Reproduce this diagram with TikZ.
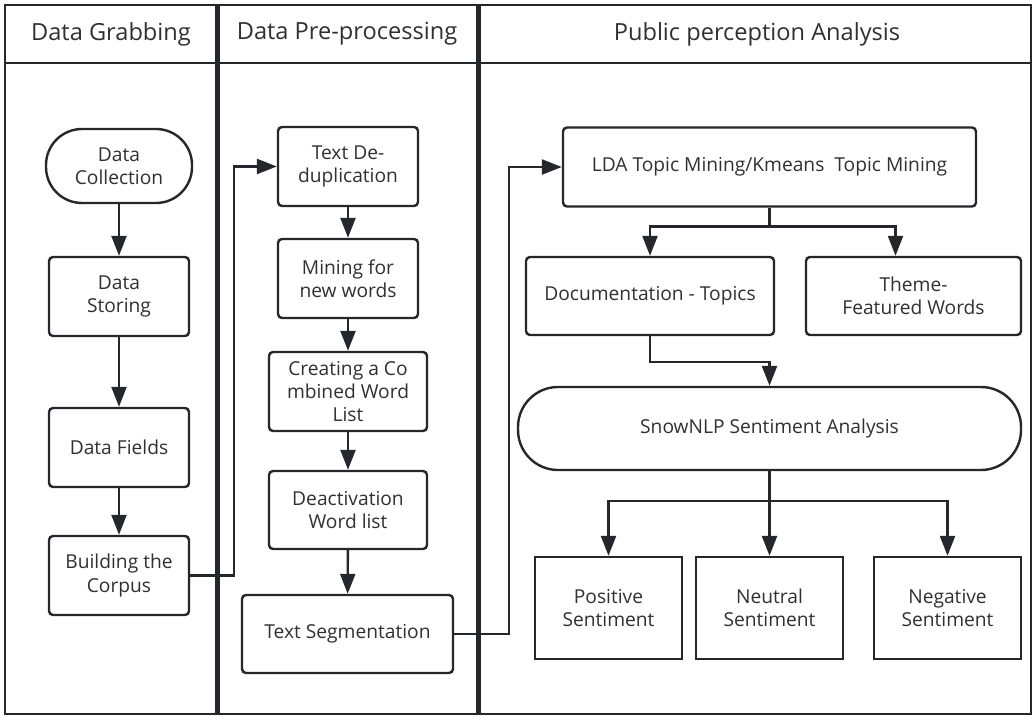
\documentclass[tikz,border=0pt]{standalone}
\usepackage{fontspec}
\setmainfont{Open Sans}
\usetikzlibrary{positioning,backgrounds,arrows.meta}
\definecolor{encre}{RGB}{36,39,43}
\definecolor{texte}{RGB}{48,48,48}

\begin{document}
\begin{tikzpicture}[x=0.5pt,y=-0.5pt]
        \tikzset{
          etape/.style={
            draw=encre,line width=1.2pt,align=center,inner sep=0pt,
            font=\fontsize{9.6}{11.7}\selectfont,text=texte,
            rounded corners=2pt,
          },
          etape carree/.style={etape,rounded corners=0pt},
          capsule/.style={etape,rounded corners=18pt},
          titre/.style={font=\fontsize{11.8}{14}\selectfont,text=texte},
          fleche/.style={
            draw=encre,line width=1.2pt,
            -{Triangle[length=10pt,width=7.5pt]},
          },
          liaison/.style={draw=encre,line width=1.2pt},
          }
        \useasboundingbox (0,0) rectangle (1036,716);
        % swimlanes
        \draw[encre,line width=1pt] (5,5) rectangle (1031,714);
        \draw[encre,line width=1pt] (5,63) -- (1031,63);
        \draw[encre,line width=2.5pt] (217,5) -- (217,714);
        \draw[encre,line width=2.5pt] (478,5) -- (478,714);
        \node[titre] (tete1) at (111,34) {Data Grabbing};
        \node[titre] (tete2) at (347,34) {Data Pre-processing};
        \node[titre] (tete3) at (757,34) {Public perception Analysis};
        % data grabbing
        \node[capsule, minimum width=73pt, minimum height=37pt] (collecte) at (119,166) {Data\\Collection};
        \node[etape, minimum width=70pt, minimum height=39.5pt] (stockage) at (119,296.5) {Data\\Storing};
        \node[etape, minimum width=70pt, minimum height=39.5pt] (champs) at (119,447.5) {Data Fields};
        \node[etape, minimum width=70pt, minimum height=39.5pt] (corpus) at (119,575.5) {Building the\\Corpus};
        % pre-processing
        \node[etape, minimum width=70pt, minimum height=39.5pt] (dedoublonnage) at (348,166.5) {Text De-\\duplication};
        \node[etape, minimum width=70pt, minimum height=39.5pt] (nouveaux) at (348,278.5) {Mining for\\new words};
        \node[etape, minimum width=79pt, minimum height=39.5pt] (combinee) at (348,391.5) {Creating a Co\\mbined Word\\List};
        \node[etape, minimum width=79pt, minimum height=39pt] (desactivation) at (348,510) {Deactivation\\Word list};
        \node[etape, minimum width=105.5pt, minimum height=39pt] (segmentation) at (347.5,634) {Text Segmentation};
        % perception analysis
        \node[etape, minimum width=206.5pt, minimum height=39.5pt] (lda) at (769.5,167) {LDA Topic Mining/Kmeans\ \ Topic Mining};
        \node[etape, minimum width=124pt, minimum height=39pt] (documents) at (650,296) {Documentation - Topics};
        \node[etape, minimum width=107.5pt, minimum height=39pt] (theme) at (913.5,296) {Theme-\\Featured Words};
        \node[capsule, rounded corners=20pt, minimum width=251.5pt, minimum height=41.5pt] (snownlp) at (769.5,428.5) {SnowNLP Sentiment Analysis};
        \node[etape carree, minimum width=73.5pt, minimum height=51pt] (positif) at (608.5,608) {Positive\\Sentiment};
        \node[etape carree, minimum width=73.5pt, minimum height=51pt] (neutre) at (769.5,608) {Neutral\\Sentiment};
        \node[etape carree, minimum width=73.5pt, minimum height=51pt] (negatif) at (947.5,608) {Negative\\Sentiment};

        \begin{scope}[on background layer]
            \draw[fleche] (collecte) -- (stockage);
            \draw[fleche] (stockage) -- (champs);
            \draw[fleche] (champs) -- (corpus);
            \draw[fleche] (corpus.east) -- ++(44,0) |- (dedoublonnage.west);
            \draw[fleche] (dedoublonnage) -- (nouveaux);
            \draw[fleche] (nouveaux) -- (combinee);
            \draw[fleche] (combinee) -- (desactivation);
            \draw[fleche] (desactivation) -- (segmentation);
            \draw[fleche] (segmentation.east) -- ++(55,0) |- (lda.west);
            \draw[liaison] (lda.south) -- ++(0,19) coordinate (fourche);
            \draw[fleche] (fourche) -| (documents.north);
            \draw[fleche] (fourche) -| ([xshift=-9pt]theme.north);
            \draw[fleche] (documents.south) -- ++(0,26) -| (snownlp.north);
            \draw[liaison] (snownlp.south) -- ++(0,30) coordinate (fourche2);
            \draw[fleche] (fourche2) -| (positif.north);
            \draw[fleche] (snownlp.south) -- (neutre.north);
            \draw[fleche] (fourche2) -| (negatif.north);
        \end{scope}
      \end{tikzpicture}
\end{document}
